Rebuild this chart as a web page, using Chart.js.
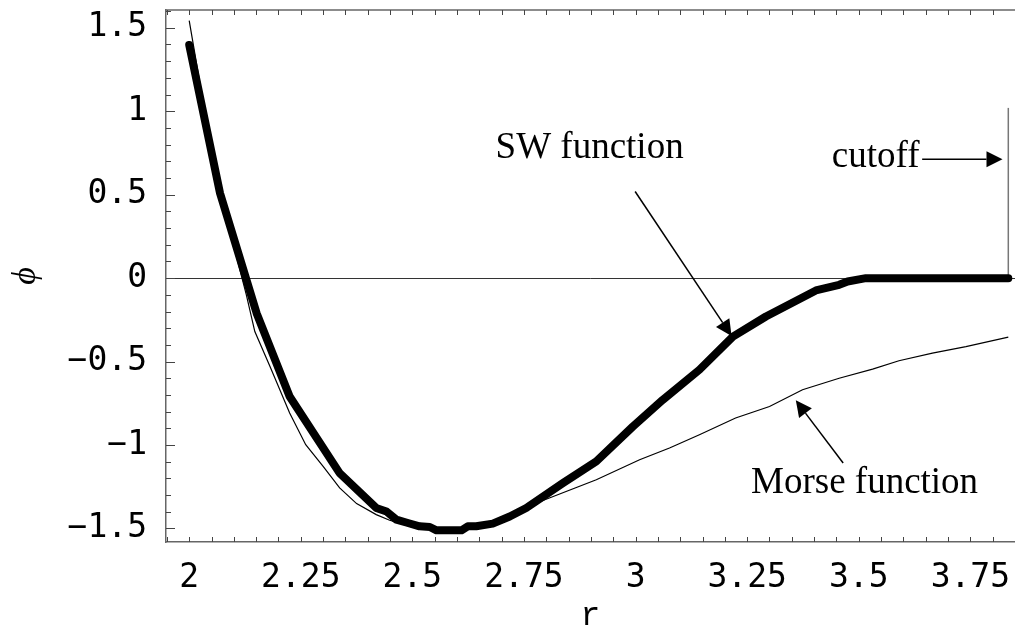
<!DOCTYPE html>
<html>
<head>
<meta charset="utf-8">
<script src="https://cdn.jsdelivr.net/npm/chart.js@4.4.1/dist/chart.umd.min.js"></script>
<style>
  html, body { margin: 0; padding: 0; background: #fff; }
  #wrap { width: 1015px; height: 626px; }
</style>
</head>
<body>
<div id="wrap"><canvas id="chart"></canvas></div>
<script>
// tick labels
var xTicks = [2, 2.25, 2.5, 2.75, 3, 3.25, 3.5, 3.75];
var yTicks = [-1.5, -1, -0.5, 0, 0.5, 1, 1.5];
var xMinorStep = 0.05;
var yMinorStep = 0.1;

// SW function (thick curve)
var swR   = [2.000, 2.069, 2.128, 2.151, 2.225, 2.337, 2.419, 2.442, 2.464, 2.490, 2.516, 2.539, 2.554, 2.610, 2.624, 2.643, 2.680, 2.718, 2.755, 2.837, 2.912, 2.994, 3.061, 3.143, 3.218, 3.292, 3.404, 3.456, 3.475, 3.516, 3.835];
var swPhi = [1.397, 0.509, -0.008, -0.210, -0.709, -1.168, -1.377, -1.398, -1.447, -1.467, -1.487, -1.491, -1.511, -1.511, -1.487, -1.487, -1.471, -1.428, -1.377, -1.228, -1.098, -0.889, -0.729, -0.549, -0.350, -0.230, -0.074, -0.040, -0.020, 0, 0];

// Morse function (thin curve)
var morseR   = [2.000, 2.050, 2.100, 2.128, 2.147, 2.181, 2.225, 2.261, 2.300, 2.337, 2.375, 2.419, 2.449, 2.500, 2.550, 2.600, 2.650, 2.700, 2.750, 2.778, 2.912, 3.009, 3.076, 3.143, 3.224, 3.300, 3.374, 3.456, 3.531, 3.590, 3.665, 3.740, 3.835];
var morsePhi = [1.543, 0.760, 0.190, -0.100, -0.320, -0.529, -0.808, -0.998, -1.128, -1.257, -1.351, -1.417, -1.451, -1.490, -1.512, -1.515, -1.490, -1.440, -1.380, -1.347, -1.208, -1.088, -1.018, -0.938, -0.838, -0.769, -0.669, -0.600, -0.545, -0.495, -0.449, -0.410, -0.353];

// cutoff marker
var cutoffR = 3.835;
var cutoffTop = 1.02;

// text notes and arrows, in data units
var notes = [
    { text: 'SW function', r: 2.897, phi: 0.719, align: 'center' },
    { text: 'Morse function', r: 3.513, phi: -1.287, align: 'center' },
    { text: 'cutoff', r: 3.636, phi: 0.663, align: 'right' }
];
var arrows = [
    { from: [2.999, 0.519], to: [3.215, -0.346] },
    { from: [3.465, -1.108], to: [3.359, -0.732] },
    { from: [3.642, 0.713], to: [3.822, 0.713] }
];

function toPoints(xs, ys){
    return xs.map(function(x, i){ return { x: x, y: ys[i] }; });
}

function isMultiple(v, step){
    var q = v / step;
    return Math.abs(q - Math.round(q)) < 1e-6;
}

// no extra room for the end labels, the plot area is fixed
function noPadding(s){
    s.paddingTop = 0;
    s.paddingBottom = 0;
    s.paddingLeft = 0;
    s.paddingRight = 0;
}

// frame, inward tick marks and the annotations
var framePlugin = {
    id: 'framePlugin',
    afterDraw: function(chart){
        var ctx = chart.ctx;
        var a = chart.chartArea;
        var xs = chart.scales.x;
        var ys = chart.scales.y;
        ctx.save();

        // top frame line
        ctx.strokeStyle = '#666';
        ctx.lineWidth = 1.5;
        ctx.beginPath();
        ctx.moveTo(a.left, a.top);
        ctx.lineTo(a.right, a.top);
        ctx.stroke();

        // x ticks, bottom and top
        ctx.strokeStyle = '#444';
        ctx.lineWidth = 1;
        ctx.beginPath();
        for(var i = Math.ceil(xs.min / xMinorStep); i * xMinorStep <= xs.max; i++){
            var px = Math.round(xs.getPixelForValue(i * xMinorStep)) + 0.5;
            ctx.moveTo(px, a.bottom);
            ctx.lineTo(px, a.bottom - 5);
            ctx.moveTo(px, a.top);
            ctx.lineTo(px, a.top + 5);
        }
        // y ticks, left
        for(var j = Math.ceil(ys.min / yMinorStep); j * yMinorStep <= ys.max; j++){
            var v = j * yMinorStep;
            var py = Math.round(ys.getPixelForValue(v)) + 0.5;
            var len = isMultiple(v, 0.5) ? 9 : 5;
            ctx.moveTo(a.left, py);
            ctx.lineTo(a.left + len, py);
        }
        ctx.stroke();

        // arrows
        ctx.strokeStyle = '#000';
        ctx.fillStyle = '#000';
        ctx.lineWidth = 1.5;
        arrows.forEach(function(ar){
            var x0 = xs.getPixelForValue(ar.from[0]), y0 = ys.getPixelForValue(ar.from[1]);
            var x1 = xs.getPixelForValue(ar.to[0]),   y1 = ys.getPixelForValue(ar.to[1]);
            var ang = Math.atan2(y1 - y0, x1 - x0);
            var hl = 16, hw = 8;
            var bx = x1 - hl * Math.cos(ang), by = y1 - hl * Math.sin(ang);
            ctx.beginPath();
            ctx.moveTo(x0, y0);
            ctx.lineTo(bx, by);
            ctx.stroke();
            ctx.beginPath();
            ctx.moveTo(x1, y1);
            ctx.lineTo(bx + hw * Math.sin(ang), by - hw * Math.cos(ang));
            ctx.lineTo(bx - hw * Math.sin(ang), by + hw * Math.cos(ang));
            ctx.closePath();
            ctx.fill();
        });

        // notes
        ctx.font = '37px "Liberation Serif", "Times New Roman", serif';
        ctx.textBaseline = 'alphabetic';
        notes.forEach(function(n){
            ctx.textAlign = n.align;
            ctx.fillText(n.text, xs.getPixelForValue(n.r), ys.getPixelForValue(n.phi));
        });
        ctx.restore();
    }
};

var monoFont = { family: '"DejaVu Sans Mono", monospace', size: 33 };

new Chart(document.getElementById('chart'), {
    type: 'line',
    data: {
        datasets: [
            {
                label: 'SW function',
                data: toPoints(swR, swPhi),
                borderColor: '#000',
                borderWidth: 8,
                borderCapStyle: 'round',
                borderJoinStyle: 'round',
                pointRadius: 0,
                fill: false,
                order: 1
            },
            {
                label: 'Morse function',
                data: toPoints(morseR, morsePhi),
                borderColor: '#000',
                borderWidth: 1.2,
                pointRadius: 0,
                fill: false,
                order: 2
            },
            {
                label: 'cutoff',
                data: [{ x: cutoffR, y: 0 }, { x: cutoffR, y: cutoffTop }],
                borderColor: '#777',
                borderWidth: 1.5,
                pointRadius: 0,
                fill: false,
                order: 3
            }
        ]
    },
    options: {
        responsive: true,
        maintainAspectRatio: false,
        animation: false,
        layout: { padding: { top: 10, right: 0, left: 0, bottom: 0 } },
        plugins: {
            legend: { display: false },
            tooltip: { enabled: false }
        },
        elements: { line: { tension: 0 } },
        scales: {
            x: {
                type: 'linear',
                position: 'bottom',
                min: 1.948,
                max: 3.85,
                afterBuildTicks: function(s){
                    s.ticks = xTicks.map(function(v){ return { value: v }; });
                },
                afterFit: function(s){ s.height = 84; noPadding(s); },
                grid: { display: false, drawTicks: false },
                border: { display: true, color: '#666', width: 1.5 },
                ticks: {
                    font: monoFont,
                    color: '#000',
                    padding: 17,
                    maxRotation: 0,
                    autoSkip: false,
                    callback: function(v){ return String(v); }
                },
                title: {
                    display: true,
                    text: 'r',
                    color: '#000',
                    font: { family: '"Liberation Mono", monospace', size: 33 },
                    padding: { top: 0, bottom: -10 }
                }
            },
            y: {
                type: 'linear',
                min: -1.581,
                max: 1.6066,
                afterBuildTicks: function(s){
                    s.ticks = yTicks.map(function(v){ return { value: v }; });
                },
                afterFit: function(s){ s.width = 166; noPadding(s); },
                grid: {
                    drawTicks: false,
                    lineWidth: 1,
                    color: function(c){
                        return (c.tick && c.tick.value === 0) ? '#333' : 'rgba(0,0,0,0)';
                    }
                },
                border: { display: true, color: '#666', width: 1.5 },
                ticks: {
                    font: monoFont,
                    color: '#000',
                    padding: 19,
                    callback: function(v){ return v < 0 ? '\u2212' + Math.abs(v) : String(v); }
                },
                title: {
                    display: true,
                    text: '\u03d5',
                    color: '#000',
                    font: { family: '"Liberation Serif", serif', size: 34, style: 'italic' },
                    padding: { top: 6, bottom: 10 }
                }
            }
        }
    },
    plugins: [framePlugin]
});
</script>
</body>
</html>
